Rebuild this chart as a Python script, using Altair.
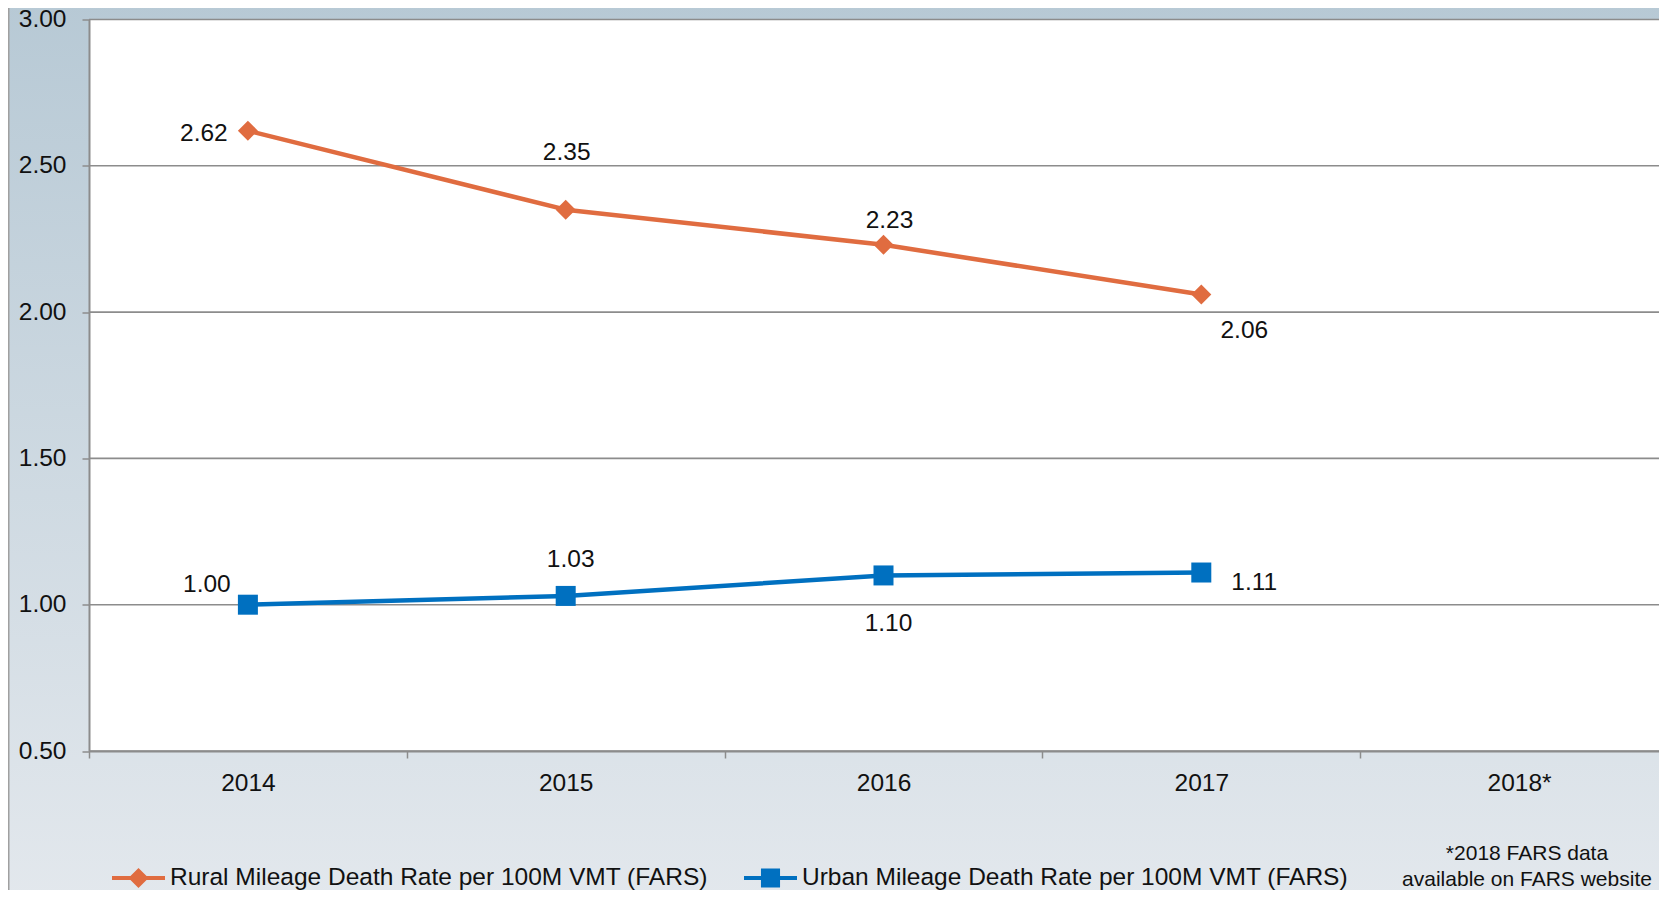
import altair as alt
import pandas as pd

# ---- data ----
categories = ["2014", "2015", "2016", "2017", "2018*"]
years = ["2014", "2015", "2016", "2017"]
rural = [2.62, 2.35, 2.23, 2.06]
urban = [1.00, 1.03, 1.10, 1.11]
series_names = [
    "Rural Mileage Death Rate per 100M VMT (FARS)",
    "Urban Mileage Death Rate per 100M VMT (FARS)",
]
y_ticks = [0.5, 1.0, 1.5, 2.0, 2.5, 3.0]
footnote_lines = ["*2018 FARS data", "available on FARS website"]

# label placement (pixel offsets from each point)
rural_label_offsets = [(-44, 3), (1, -57), (6, -24), (43, 36)]
urban_label_offsets = [(-41, -20), (5, -36), (5, 49), (53, 10)]

# ---- styles ----
FONT = "Liberation Sans"
FS = 24.5
TXT = "#111111"
GRID = "#8c8c8c"
COLORS = ["#e06c40", "#0070c0"]
W, H = 1570, 731.5
PAD_L, PAD_T, PAD_B = 81, 11.5, 139
XRANGE = 1589

rows = []
for s, vals in zip(series_names, [rural, urban]):
    for yr, v in zip(years, vals):
        rows.append({"year": yr, "value": v, "series": s})
df = pd.DataFrame(rows)
grid_df = pd.DataFrame({"value": y_ticks})
one = pd.DataFrame({"a": [0]})

xscale = alt.Scale(type="band", domain=categories, range=[0, XRANGE], paddingInner=0, paddingOuter=0)
yscale = alt.Scale(domain=[0.5, 3.0], nice=False, zero=False)

x_enc = alt.X(
    "year:N",
    scale=xscale,
    sort=categories,
    axis=alt.Axis(
        title=None, tickBand="extent", labelAngle=0, labelFont=FONT, labelFontSize=FS,
        labelColor=TXT, labelPadding=25, labelBaseline="middle", tickSize=7,
        tickColor=GRID, tickWidth=1.5, domainColor=GRID, domainWidth=2, grid=False, zindex=1,
    ),
)
y_enc = alt.Y(
    "value:Q",
    scale=yscale,
    axis=alt.Axis(
        title=None, values=y_ticks, format=".2f", labelFont=FONT, labelFontSize=FS,
        labelColor=TXT, labelPadding=16, tickSize=7, tickColor=GRID, tickWidth=1.5,
        domainColor=GRID, domainWidth=2, grid=False, zindex=1,
    ),
)
color_scale = alt.Scale(domain=series_names, range=COLORS)

bg = alt.Chart(one).mark_rect(
    fill=alt.Gradient(
        gradient="linear",
        stops=[alt.GradientStop(color="#b7c9d5", offset=0), alt.GradientStop(color="#e3e8ed", offset=1)],
        x1=0, x2=0, y1=0, y2=1,
    )
).encode(x=alt.value(-PAD_L), x2=alt.value(W + 20), y=alt.value(-PAD_T - 8), y2=alt.value(H + PAD_B + 16))

border = alt.Chart(one).mark_rule(color="#a0a0a0", strokeWidth=1.5).encode(
    x=alt.value(-PAD_L + 0.75), y=alt.value(-PAD_T), y2=alt.value(H + PAD_B + 20)
)

plot_bg = alt.Chart(one).mark_rect(fill="white").encode(
    x=alt.value(0), x2=alt.value(W + 20), y=alt.value(0), y2=alt.value(H)
)

grid = alt.Chart(grid_df).mark_rule(color=GRID, strokeWidth=1.6).encode(
    y=y_enc, x=alt.value(0), x2=alt.value(W + 20)
)

lines = alt.Chart(df).mark_line(strokeWidth=4.5, strokeJoin="round").encode(
    x=x_enc, y=y_enc, color=alt.Color("series:N", scale=color_scale, legend=None)
)

points = alt.Chart(df).mark_point(filled=True, opacity=1, size=400, strokeWidth=0).encode(
    x=x_enc, y=y_enc,
    color=alt.Color("series:N", scale=color_scale, legend=None),
    shape=alt.Shape("series:N", scale=alt.Scale(domain=series_names, range=["diamond", "square"]), legend=None),
)

# legend symbols: line with marker
diamond_path = "M-1,-0.08H1V0.08H-1Z M0,-0.38L0.38,0L0,0.38L-0.38,0Z"
square_path = "M-1,-0.08H1V0.08H-1Z M-0.36,-0.36H0.36V0.36H-0.36Z"
leg = dict(
    orient="none", legendX=23, legendY=832, direction="horizontal", columns=2, title=None,
    padding=0, symbolSize=2809, symbolOpacity=1, symbolStrokeWidth=0, labelFont=FONT,
    labelFontSize=FS, labelColor=TXT, labelLimit=2000, labelOffset=5, columnPadding=36,
)
legend_layer = alt.Chart(df).mark_point(filled=True, opacity=0).encode(
    x=x_enc, y=y_enc,
    color=alt.Color("series:N", scale=color_scale, legend=alt.Legend(**leg)),
    shape=alt.Shape("series:N", scale=alt.Scale(domain=series_names, range=[diamond_path, square_path]),
                    legend=alt.Legend(**leg)),
)

labels = []
for s, offs in zip(series_names, [rural_label_offsets, urban_label_offsets]):
    for yr, (dx, dy) in zip(years, offs):
        labels.append(
            alt.Chart(df)
            .transform_filter((alt.datum.series == s) & (alt.datum.year == yr))
            .mark_text(font=FONT, fontSize=FS, color=TXT, dx=dx, dy=dy, align="center", baseline="middle")
            .encode(x=x_enc, y=y_enc, text=alt.Text("value:Q", format=".2f"))
        )

FOOT_FS = 21
foot1 = alt.Chart(one).mark_text(
    text=footnote_lines[0], font=FONT, fontSize=FOOT_FS, color=TXT, align="center", baseline="middle"
).encode(x=alt.value(1438), y=alt.value(834))
foot2 = alt.Chart(one).mark_text(
    text=footnote_lines[1], font=FONT, fontSize=FOOT_FS, color=TXT, align="center", baseline="middle"
).encode(x=alt.value(1438), y=alt.value(860))

chart = (
    alt.layer(bg, border, plot_bg, grid, lines, points, legend_layer, *labels, foot1, foot2)
    .resolve_scale(color="independent", shape="independent")
    .properties(
        width=W, height=H,
        autosize=alt.AutoSizeParams(type="none"),
        padding={"left": PAD_L, "top": PAD_T, "right": 0, "bottom": PAD_B},
    )
    .configure_view(stroke=None)
    .configure(background="white")
)

chart.save("out.html", embed_options={"renderer": "svg", "actions": False})
